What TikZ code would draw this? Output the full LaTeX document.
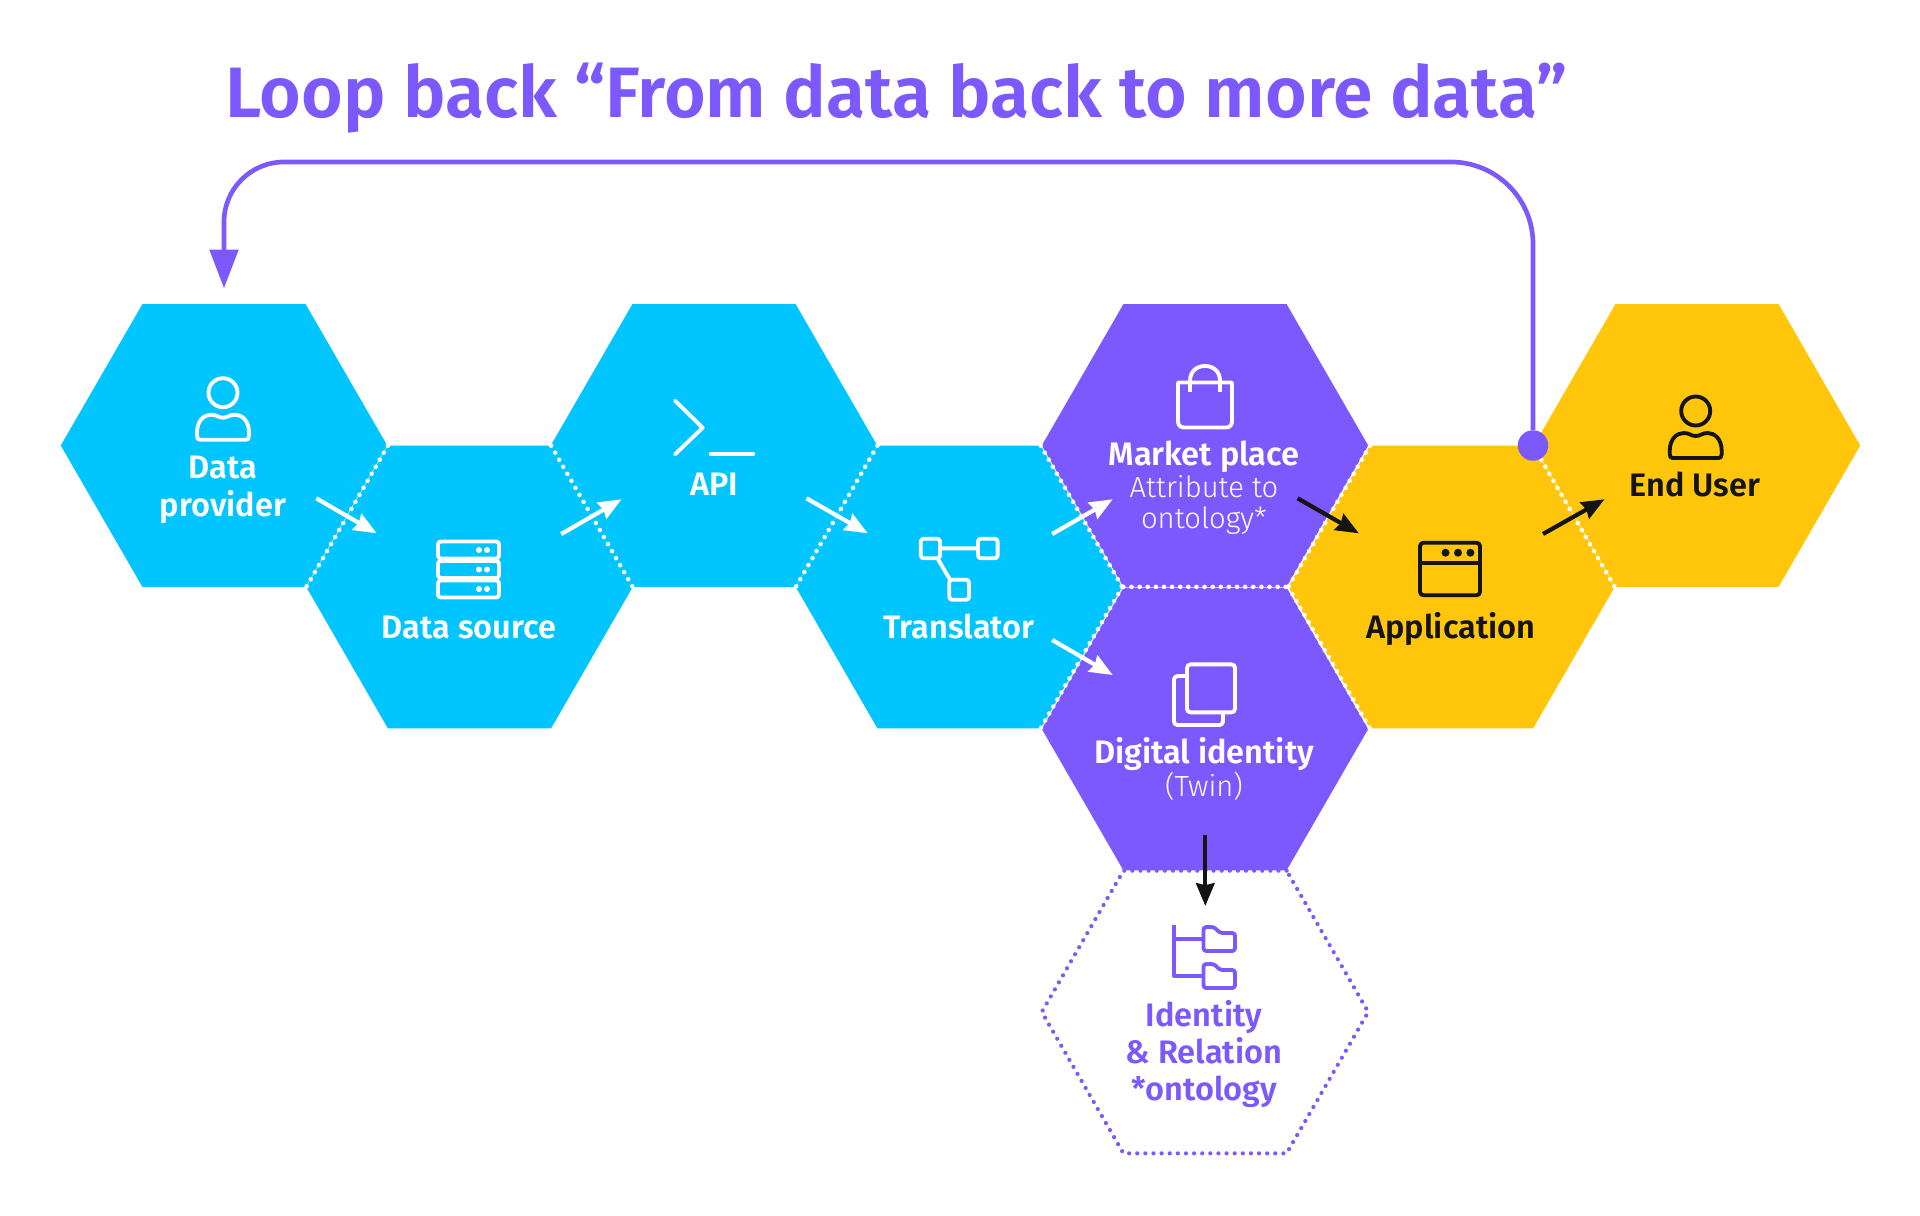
\documentclass[tikz,border=0pt]{standalone}
\usepackage{fontspec}
\usetikzlibrary{arrows.meta,shapes.geometric,decorations.markings}
\setmainfont{Fira Sans}
\newfontfamily\semifont{Fira Sans SemiBold}
\newfontfamily\lightfont{Fira Sans Light}
\definecolor{hexblue}{HTML}{00C5FF}
\definecolor{hexpurple}{HTML}{7C59FF}
\definecolor{hexyellow}{HTML}{FFC60B}
\definecolor{inkblack}{HTML}{141414}
\tikzset{
  hexbase/.style={regular polygon,regular polygon sides=6,minimum size=6.53cm,inner sep=0pt,outer sep=0pt},
  hexfill/.style={hexbase,fill=#1},
  dotline/.style 2 args={decorate,decoration={markings,mark=between positions 0 and 1 step 4.62pt with {\fill[#1] (0,0) circle (#2);}}},
  seam/.style={dotline={white}{1.3pt}},
  flow/.style={line width=2.4pt,-{Stealth[length=13pt,width=10.5pt,inset=1.2pt]}},
  mainlabel/.style={font=\semifont\fontsize{18.5}{21.6}\selectfont,align=center,inner sep=0pt},
  sublabel/.style={font=\lightfont\fontsize{16.6}{17.4}\selectfont,align=center,inner sep=0pt},
  icon/.style={line width=2.2pt,line join=round},
  usericon/.pic={
    \draw[icon,pic actions] (0,0) ellipse (14.5 and 14.5);
    \draw[icon,pic actions] (-26,40) .. controls (-26,28) and (-19,22) .. (-12,22) .. controls (-6,22) and (-5,25) .. (0,25)
      .. controls (5,25) and (6,22) .. (12,22) .. controls (19,22) and (26,28) .. (26,40) -- (26,43)
      .. controls (26,46) and (25,47) .. (23,47) -- (-23,47) .. controls (-25,47) and (-26,46) .. (-26,43) -- cycle;
  },
}
\begin{document}
\begin{tikzpicture}[x=0.02cm,y=-0.02cm]
\useasboundingbox (0,0) rectangle (1920,1216);
% title
\node[anchor=base,font=\semifont\fontsize{40.65}{50}\selectfont,text=hexpurple,inner sep=0pt] (title) at (896.5,117.3) {Loop back “From data back to more data”};
% hexagons
\node[hexbase] (ontology) at (1205,1012) {};
\path[dotline={hexpurple}{1.2pt}] (ontology.corner 1) -- (ontology.corner 2) -- (ontology.corner 3) -- (ontology.corner 4) -- (ontology.corner 5) -- (ontology.corner 6) -- cycle;
\node[hexfill=hexblue]   (provider)   at (224,445.5)  {};
\node[hexfill=hexblue]   (source)     at (469.5,587)  {};
\node[hexfill=hexblue]   (api)        at (714,445.5)  {};
\node[hexfill=hexblue]   (translator) at (959,587)    {};
\node[hexfill=hexpurple] (market)     at (1205,445.5) {};
\node[hexfill=hexpurple] (identity)   at (1205,729)   {};
\node[hexfill=hexyellow] (application) at (1451.5,587) {};
\node[hexfill=hexyellow] (enduser)    at (1697,445.5) {};
% dotted seams
\path[seam] (source.corner 2) -- (source.corner 3);
\path[seam] (source.corner 1) -- (source.corner 6);
\path[seam] (translator.corner 2) -- (translator.corner 3);
\path[seam] (translator.corner 1) -- (translator.corner 6);
\path[seam] (translator.corner 6) -- (translator.corner 5);
\path[seam] (market.corner 4) -- (market.corner 5);
\path[seam] (application.corner 2) -- (application.corner 3);
\path[seam] (application.corner 3) -- (application.corner 4);
\path[seam] (application.corner 1) -- (application.corner 6);
% loop back
\node[circle,fill=hexpurple,minimum size=0.61cm,inner sep=0pt] (loopdot) at (1533,445.5) {};
\coordinate (looptopright) at (1533,162);
\coordinate (looptop) at (224,162);
\coordinate (looptip) at (224,288.3);
\draw[hexpurple,line width=2.65pt,-{Stealth[length=22pt,width=16pt,inset=0pt]}] (loopdot) [rounded corners=1.64cm] -- (looptopright) [rounded corners=1.2cm] -- (looptop) -- (looptip);
% flow arrows
\coordinate (a1) at (316.3,498.3);  \coordinate (b1) at (376.7,533.3);
\coordinate (a2) at (561.2,534);    \coordinate (b2) at (621.6,499.3);
\coordinate (a3) at (806.5,498.3);  \coordinate (b3) at (867.8,533.3);
\coordinate (a4) at (1052.2,534);   \coordinate (b4) at (1112.7,499.3);
\coordinate (a5) at (1052.2,640);   \coordinate (b5) at (1112.7,675);
\coordinate (a6) at (1297.6,498.3); \coordinate (b6) at (1358.8,533.3);
\coordinate (a7) at (1543,534);     \coordinate (b7) at (1604.5,499.3);
\coordinate (a8) at (1205.3,835);   \coordinate (b8) at (1205.3,906);
\draw[flow,white] (a1) -- (b1);
\draw[flow,white] (a2) -- (b2);
\draw[flow,white] (a3) -- (b3);
\draw[flow,white] (a4) -- (b4);
\draw[flow,white] (a5) -- (b5);
\draw[flow,inkblack] (a6) -- (b6);
\draw[flow,inkblack] (a7) -- (b7);
\draw[flow,inkblack] (a8) -- (b8);
% icons
\pic[white] at (223,392.7) {usericon};
\pic[inkblack] at (1695.7,411) {usericon};
\foreach \row in {550,569.5,589}{
  \draw[icon,white,rounded corners=1.6pt] (438,\row-8.5) rectangle (499,\row+8.5);
  \fill[white] (479,\row) circle (3) (487,\row) circle (3);
}
\draw[icon,white,line cap=round] (675,400.7) -- (702.7,427.7) -- (675,454.3);
\draw[icon,white,line cap=round] (710.7,454) -- (753.3,454);
\draw[icon,white,rounded corners=1.6pt] (920.8,538.7) rectangle (940,558.3);
\draw[icon,white,rounded corners=1.6pt] (978,538.7) rectangle (997.6,558.3);
\draw[icon,white,rounded corners=1.6pt] (949.3,579.7) rectangle (969,599.7);
\draw[icon,white] (940,548.4) -- (978,548.4) (937.5,558.3) -- (950,579.7);
\draw[icon,white] (1178,382.5) -- (1232,382.5) -- (1232,421) .. controls (1232,425) and (1230,427.5) .. (1226,427.5) -- (1184,427.5) .. controls (1180,427.5) and (1178,425) .. (1178,421) -- cycle;
\draw[icon,white] (1190,392) -- (1190,381) .. controls (1190,371) and (1197,366) .. (1205,366) .. controls (1213,366) and (1220,371) .. (1220,381) -- (1220,392);
\draw[icon,white,rounded corners=2pt] (1187,664.4) rectangle (1235,712.4);
\draw[icon,white,rounded corners=2pt] (1187,676) -- (1174,676) -- (1174,725) -- (1223,725) -- (1223,712.4);
\draw[icon,hexpurple] (1174,925) -- (1174,976) -- (1202,976) (1174,939) -- (1202,939);
\foreach \row in {925,962}{
  \draw[icon,hexpurple,rounded corners=1.6pt] (1203.5,\row+2) -- (1214,\row+2) -- (1220,\row+8) -- (1235,\row+8) -- (1235,\row+26) -- (1203.5,\row+26) -- cycle;
}
\draw[icon,inkblack,rounded corners=2pt] (1420,542.7) rectangle (1480,595.3);
\draw[icon,inkblack] (1420,563.3) -- (1480,563.3);
\fill[inkblack] (1445.5,552.7) circle (4) (1458,552.7) circle (4) (1470.4,552.7) circle (4);
% labels
\node[mainlabel,white] (providerlabel) at (223,489.7) {Data\\provider};
\node[mainlabel,white,anchor=base] (sourcelabel) at (469,638.7) {Data source};
\node[mainlabel,white,anchor=base] (apilabel) at (714,495.5) {API};
\node[mainlabel,white,anchor=base] (translatorlabel) at (959,638.7) {Translator};
\node[mainlabel,white,anchor=base] (marketlabel) at (1204,465) {Market place};
\node[sublabel,white] (attributelabel) at (1204,505) {Attribute to\\ontology*};
\node[mainlabel,white,anchor=base] (identitylabel) at (1204,763) {Digital identity};
\node[sublabel,white] (twinlabel) at (1204,786) {(Twin)};
\node[mainlabel,inkblack,anchor=base] (applicationlabel) at (1451,638) {Application};
\node[mainlabel,inkblack,anchor=base] (enduserlabel) at (1695,496.7) {End User};
\node[mainlabel,text=hexpurple] (ontologylabel) at (1204,1054) {Identity\\[-0.5pt]\& Relation\\[-0.5pt]*ontology};
\end{tikzpicture}
\end{document}
